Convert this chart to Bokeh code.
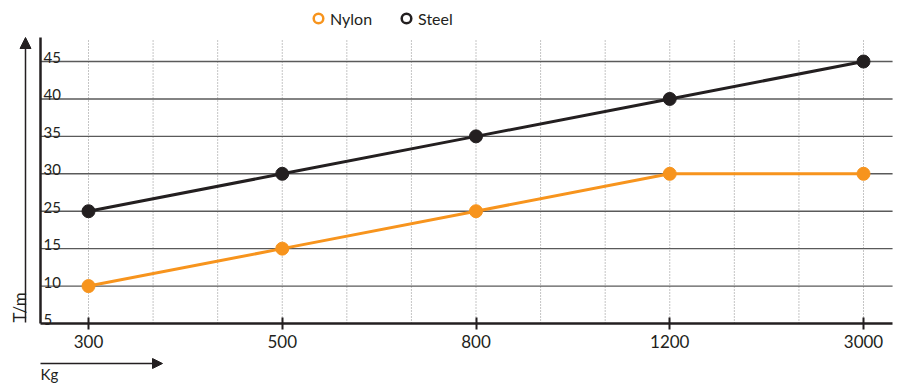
import math
from bokeh.plotting import figure
from bokeh.models import (Range1d, FixedTicker, Arrow, NormalHead,
                          Legend, LegendItem, ColumnDataSource)
from bokeh.core.properties import value
from bokeh.embed import file_html
from bokeh.resources import INLINE

# ---- data ----
categories = ["300", "500", "800", "1200", "3000"]
y_levels = [5, 10, 15, 25, 30, 35, 40, 45]
nylon = [10, 15, 25, 30, 30]
steel = [25, 30, 35, 40, 45]
x_title = "Kg"
y_title = "T/m"

ORANGE = "#F7941D"
DARK = "#231F20"
FONT = "Lato"

xs = list(range(len(categories)))
nylon_pos = [y_levels.index(v) for v in nylon]
steel_pos = [y_levels.index(v) for v in steel]
level_pos = list(range(len(y_levels)))

# plot-area extent (in category / level units)
X_LEFT, X_RIGHT = -0.2477, len(categories) - 1 + 0.150
Y_BOTTOM, Y_TOP = 0, len(y_levels) - 1 + 0.641

W, H = 898, 383
p = figure(width=W, height=H, output_backend="svg", toolbar_location=None,
           x_range=Range1d(-0.4542, len(categories) - 1 + 0.1806),
           y_range=Range1d(-1.603, len(y_levels) - 1 + 1.630),
           min_border=0)
p.outline_line_color = None
p.background_fill_color = "white"
p.border_fill_color = "white"
p.xgrid.visible = False
p.ygrid.visible = False

# grid lines (drawn only inside the plot area)
thirds = [i / 3 for i in range(0, 3 * (len(categories) - 1) + 1)]
p.segment(x0=thirds, y0=[Y_BOTTOM] * len(thirds), x1=thirds,
          y1=[Y_TOP - 0.06] * len(thirds),
          line_color="#8a8a8a", line_dash="1 2", line_width=1)
p.segment(x0=[X_LEFT] * (len(level_pos) - 1), y0=level_pos[1:],
          x1=[X_RIGHT] * (len(level_pos) - 1), y1=level_pos[1:],
          line_color="#5a5a5a", line_width=1.4)

# x axis, fixed at the bottom level
xa = p.xaxis[0]
xa.fixed_location = Y_BOTTOM
xa.bounds = (X_LEFT, X_RIGHT)
xa.ticker = FixedTicker(ticks=xs, minor_ticks=[])
xa.major_label_overrides = {i: c for i, c in enumerate(categories)}
xa.axis_line_width = 2.5
xa.axis_line_color = DARK
xa.major_tick_in = 6
xa.major_tick_out = 6
xa.major_tick_line_width = 2
xa.major_tick_line_color = DARK
xa.minor_tick_line_color = None
xa.major_label_text_font = FONT
xa.major_label_text_font_size = "17px"
xa.major_label_text_color = DARK
xa.major_label_standoff = 5

# y axis (line only), fixed at left edge of plot area
ya = p.yaxis[0]
ya.fixed_location = X_LEFT
ya.bounds = (Y_BOTTOM, Y_TOP)
ya.ticker = FixedTicker(ticks=[], minor_ticks=[])
ya.axis_line_width = 2.5
ya.axis_line_color = DARK
ya.major_tick_line_color = None
ya.minor_tick_line_color = None
ya.major_label_text_font_size = "0px"

# y level labels inside plot
p.text(x=[X_LEFT] * len(y_levels), y=level_pos,
       text=[str(v) for v in y_levels], x_offset=3, y_offset=-4,
       text_align="left", text_baseline="alphabetic",
       text_font=value(FONT), text_font_size="15px", text_color=DARK)

# series
p.line(xs, steel_pos, line_color=DARK, line_width=3)
p.scatter(xs, steel_pos, size=13, fill_color=DARK, line_color=DARK)
p.line(xs, nylon_pos, line_color=ORANGE, line_width=3)
p.scatter(xs, nylon_pos, size=13, fill_color=ORANGE, line_color=ORANGE)

# legend (hollow markers; proxy renderers with a single non-drawn point)
nan = float("nan")
proxy_n = ColumnDataSource(data=dict(x=[nan], y=[nan]))
proxy_s = ColumnDataSource(data=dict(x=[nan], y=[nan]))
rn = p.scatter("x", "y", source=proxy_n, size=13, fill_color="white",
               line_color=ORANGE, line_width=2.5)
rs = p.scatter("x", "y", source=proxy_s, size=13, fill_color="white",
               line_color=DARK, line_width=2.5)
legend = Legend(items=[LegendItem(label="Nylon", renderers=[rn]),
                       LegendItem(label="Steel", renderers=[rs])],
                orientation="horizontal", location=(306, 353),
                border_line_color=None, background_fill_alpha=0,
                label_text_font=FONT, label_text_font_size="16px",
                label_text_color=DARK, spacing=22, padding=0, margin=0,
                label_standoff=0, glyph_width=24, glyph_height=24)
p.add_layout(legend, "center")

# axis arrows (screen units, origin at bottom-left)
p.add_layout(Arrow(end=NormalHead(size=11, fill_color=DARK, line_color=DARK),
                   x_start=25, y_start=H - 322, x_end=25, y_end=H - 37,
                   start_units="screen", end_units="screen",
                   line_width=1.5, line_color=DARK))
p.add_layout(Arrow(end=NormalHead(size=10, fill_color=DARK, line_color=DARK),
                   x_start=40, y_start=H - 363, x_end=162, y_end=H - 363,
                   start_units="screen", end_units="screen",
                   line_width=1.5, line_color=DARK))

# axis titles, anchored at the plot-area corner
p.text(x=[X_LEFT], y=[Y_BOTTOM], text=[x_title], x_offset=0, y_offset=50,
       text_align="left", text_baseline="alphabetic",
       text_font=value(FONT), text_font_size="15px", text_color=DARK)
p.text(x=[X_LEFT], y=[Y_BOTTOM], text=[y_title], x_offset=-21, y_offset=-1,
       angle=math.pi / 2, text_align="left", text_baseline="alphabetic",
       text_font=value(FONT), text_font_size="17px", text_color=DARK)

open("out.html", "w").write(file_html(p, INLINE))
